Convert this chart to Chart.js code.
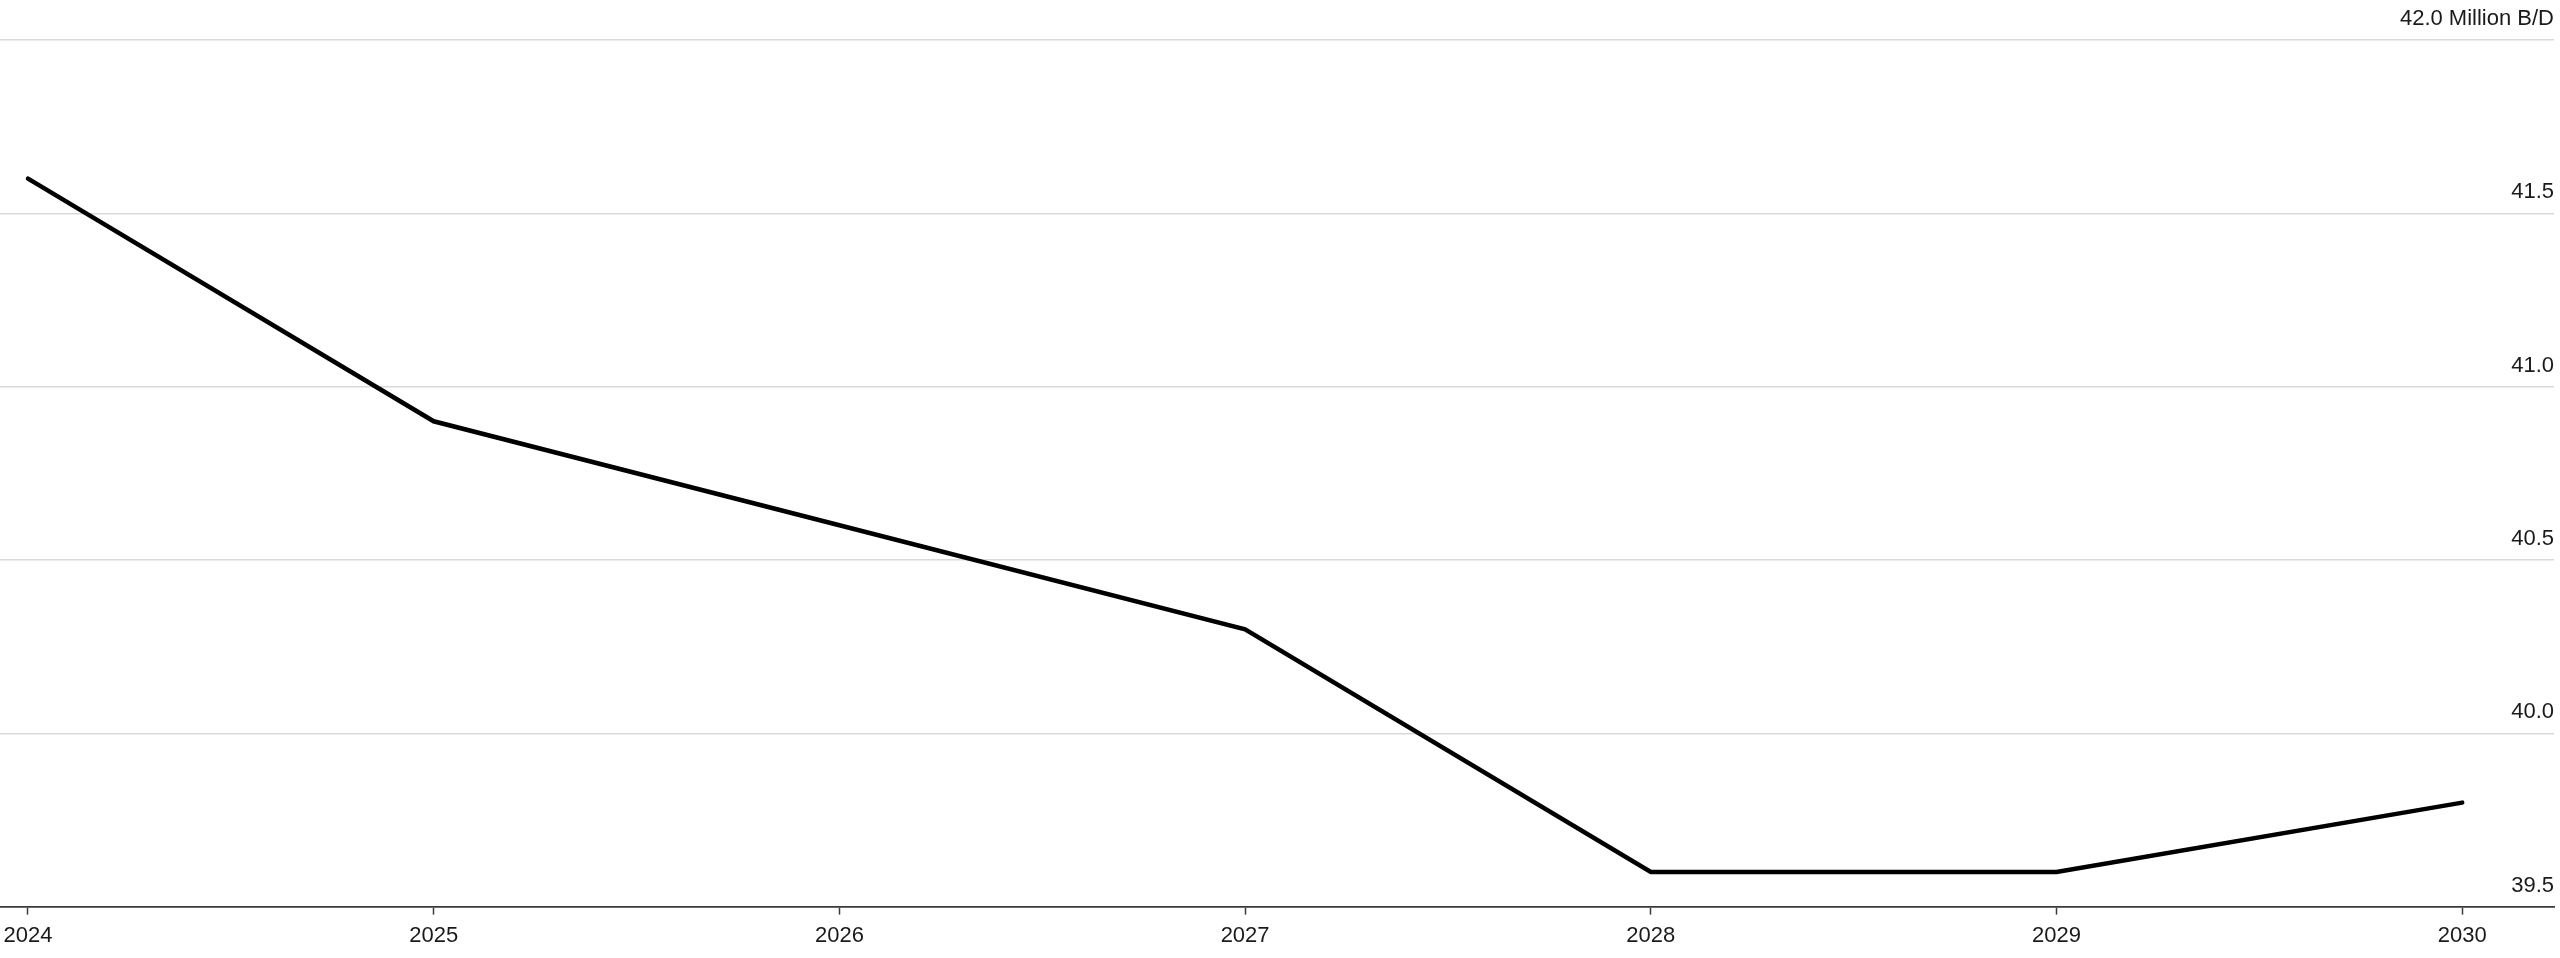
<!DOCTYPE html>
<html>
<head>
<meta charset="utf-8">
<script src="https://cdn.jsdelivr.net/npm/chart.js@4.4.1/dist/chart.umd.min.js"></script>
<style>
  html, body { margin: 0; padding: 0; background: #ffffff; }
  #wrap { width: 2560px; height: 958px; }
</style>
</head>
<body>
<div id="wrap"><canvas id="c" width="2560" height="958"></canvas></div>
<script>
const years = [2024, 2025, 2026, 2027, 2028, 2029, 2030];
const supply = [41.6, 40.9, 40.6, 40.3, 39.6, 39.6, 39.8];
const yTicks = [39.5, 40.0, 40.5, 41.0, 41.5, 42.0];
const unitLabel = 'Million B/D';

const FONT = '"Liberation Sans", Arial, Helvetica, sans-serif';
const STEP = 405.7;

new Chart(document.getElementById('c'), {
  type: 'line',
  data: {
    datasets: [{
      data: years.map((y, i) => ({ x: y, y: supply[i] })),
      borderColor: '#000000',
      borderWidth: 4.5,
      borderCapStyle: 'round',
      borderJoinStyle: 'miter',
      pointRadius: 0,
      tension: 0,
      fill: false
    }]
  },
  options: {
    responsive: false,
    animation: false,
    devicePixelRatio: 1,
    layout: { padding: { top: 40, right: 6, left: 0, bottom: 1 } },
    plugins: { legend: { display: false }, tooltip: { enabled: false } },
    scales: {
      x: {
        type: 'linear',
        min: years[0] - 28 / STEP,
        max: years[0] + (2554 - 28) / STEP,
        afterBuildTicks: (scale) => { scale.ticks = years.map(v => ({ value: v })); },
        afterFit: (scale) => { scale.paddingLeft = 0; scale.paddingRight = 0; },
        grid: {
          display: true,
          drawOnChartArea: false,
          drawTicks: true,
          tickLength: 8,
          tickWidth: 1.5,
          tickColor: '#3a3a3a'
        },
        border: { display: true, color: '#3a3a3a', width: 1.75 },
        ticks: {
          autoSkip: false,
          maxRotation: 0,
          padding: 8,
          color: '#1a1a1a',
          font: { family: FONT, size: 22 },
          callback: (v) => String(v)
        }
      },
      y: {
        position: 'right',
        min: yTicks[0],
        max: yTicks[yTicks.length - 1],
        afterBuildTicks: (scale) => { scale.ticks = yTicks.map(v => ({ value: v })); },
        grid: {
          display: true,
          drawTicks: false,
          color: (ctx) => (ctx.tick && ctx.tick.value === yTicks[0]) ? 'rgba(0,0,0,0)' : '#d9d9d9',
          lineWidth: 1.5
        },
        border: { display: false },
        ticks: {
          mirror: true,
          padding: 0,
          labelOffset: -21,
          color: '#1a1a1a',
          font: { family: FONT, size: 22 },
          callback: (v) => v === yTicks[yTicks.length - 1] ? v.toFixed(1) + ' ' + unitLabel : v.toFixed(1)
        }
      }
    }
  }
});
</script>
</body>
</html>
